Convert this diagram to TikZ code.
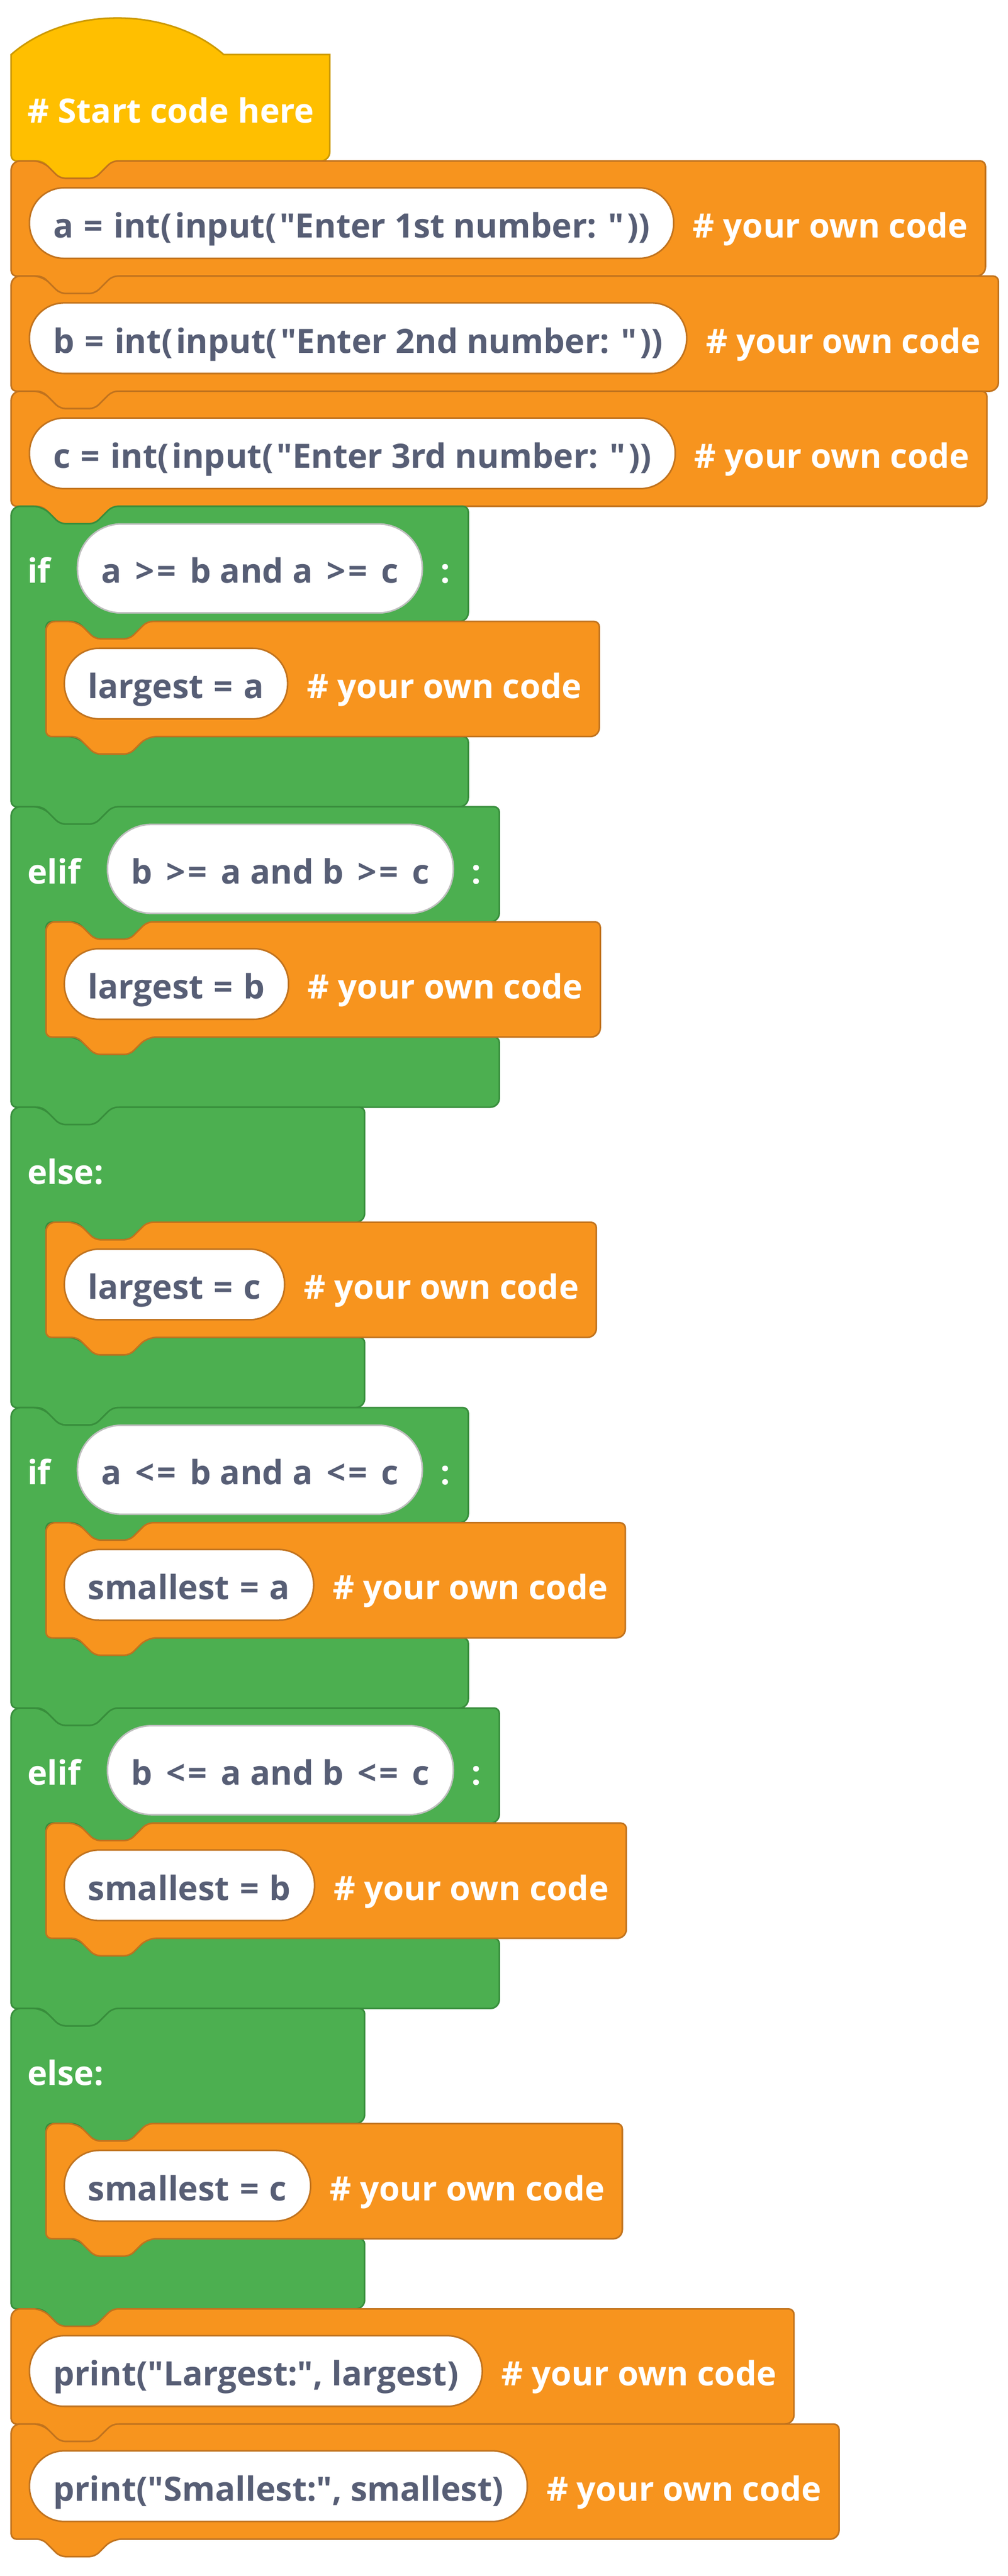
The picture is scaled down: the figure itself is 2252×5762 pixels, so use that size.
\documentclass[tikz,border=0pt]{standalone}
\usepackage{fontspec}
\setmainfont{Open Sans}[Ligatures=TeXOff]
\usetikzlibrary{calc}
\definecolor{ofill}{HTML}{F7941E}
\definecolor{oline}{HTML}{C1731E}
\definecolor{gfill}{HTML}{4CAF50}
\definecolor{gline}{HTML}{388E3C}
\definecolor{yfill}{HTML}{FFBF00}
\definecolor{yline}{HTML}{CC9900}
\definecolor{txtc}{HTML}{575E75}
\definecolor{pgray}{HTML}{BEBEBE}
\pgfdeclarelayer{bg}
\pgfsetlayers{bg,main}
\newdimen\blkdim
\newcommand\bfnt{\fontsize{75pt}{90pt}\selectfont\bfseries}
\newcommand\getxof[3]{\pgfextractx{\blkdim}{\pgfpointanchor{#1}{#2}}\pgfmathsetmacro#3{\the\blkdim}}
% wider spacing of operators, as in the reference font
\newcommand\eqop{\kern4pt=\kern4pt}
\newcommand\geop{\kern12pt>\kern5pt=\kern12pt}
\newcommand\leop{\kern12pt<\kern5pt=\kern12pt}
\newcommand\pk{\kern7pt}
\tikzset{
  lbl/.style={font=\bfnt, text=white, inner sep=0pt, anchor=base west},
  pill/.style={font=\bfnt, text=txtc, fill=white, draw=oline, line width=3.5pt,
    rounded corners=78pt, minimum height=158pt, inner xsep=53pt, inner ysep=0pt,
    text height=79pt, text depth=13pt, anchor=west},
  cpill/.style={pill, draw=pgray, minimum height=199pt, rounded corners=98pt, anchor=base west},
  oblock/.style={fill=ofill, draw=oline, line width=3.5pt},
  gblock/.style={fill=gfill, draw=gline, line width=3.5pt},
  yblock/.style={fill=yfill, draw=yline, line width=3.5pt},
}
% simple stack block shape: #1 left, #2 top, #3 right, #4 style
\newcommand\sblock[4]{%
  \begin{pgfonlayer}{bg}
  \draw[#4, rounded corners=20] (#1,#2+120) -- (#1,#2) -- (#1+70,#2) [rounded corners=12]
    -- (#1+109,#2+39) -- (#1+187,#2+39) -- (#1+226,#2) -- (#3,#2) [rounded corners=20]
    -- (#3,#2+257.5) -- (#1+226,#2+257.5) [rounded corners=12]
    -- (#1+187,#2+296.5) -- (#1+109,#2+296.5) -- (#1+70,#2+257.5) -- (#1,#2+257.5) [rounded corners=20]
    -- cycle;
  \end{pgfonlayer}}
% statement block: #1 name, #2 left, #3 top, #4 text
\newcommand\stmt[4]{%
  \node[pill] (#1p) at (#2+39,#3+139) {#4};
  \node[lbl] (#1c) at ([xshift=41pt]#1p.base east) {\# your own code};
  \getxof{#1c}{east}{\blkR}%
  \pgfmathsetmacro\blkR{\blkR+39}%
  \sblock{#2}{#3}{\blkR}{oblock}}
% C-shaped green block: #1 top, #2 right
\newcommand\cshape[2]{%
  \begin{pgfonlayer}{bg}
  \draw[gblock, rounded corners=20] (25,#1+120) -- (25,#1) -- (95,#1) [rounded corners=12]
    -- (134,#1+39) -- (212,#1+39) -- (251,#1) -- (#2,#1) [rounded corners=20]
    -- (#2,#1+257.5) -- (329,#1+257.5) [rounded corners=12]
    -- (290,#1+296.5) -- (212,#1+296.5) -- (173,#1+257.5) -- (103,#1+257.5) [rounded corners=20]
    -- (103,#1+515) -- (173,#1+515) [rounded corners=12]
    -- (212,#1+554) -- (290,#1+554) -- (329,#1+515) -- (#2,#1+515) [rounded corners=20]
    -- (#2,#1+672) -- (251,#1+672) [rounded corners=12]
    -- (212,#1+711) -- (134,#1+711) -- (95,#1+672) -- (25,#1+672) [rounded corners=20]
    -- cycle;
  \end{pgfonlayer}}
% if / elif block: #1 name, #2 top, #3 keyword, #4 condition, #5 inner statement
\newcommand\cblk[5]{%
  \node[lbl] (#1l) at (61,#2+172) {#3};
  \node[cpill] (#1q) at ([xshift=58pt]#1l.base east) {#4};
  \node[lbl, anchor=base] (#1k) at ([xshift=50pt]#1q.base east) {:};
  \getxof{#1k}{center}{\blkR}%
  \pgfmathsetmacro\blkR{\blkR+51}%
  \cshape{#2}{\blkR}%
  \stmt{#1i}{103}{#2+257.5}{#5}}
% else block: #1 name, #2 top, #3 inner statement
\newcommand\eblk[3]{%
  \node[lbl] (#1l) at (61,#2+172) {else:};
  \cshape{#2}{815}%
  \stmt{#1i}{103}{#2+257.5}{#3}}
\begin{document}
\begin{tikzpicture}[x=1pt,y=-1pt]
\useasboundingbox (0,0) rectangle (2252,5762);
\begin{pgfonlayer}{bg}
\fill[white] (0,0) rectangle (2252,5762);
\draw[yblock] (25,250) -- (25,122) .. controls (149,13) and (376,13) .. (500,122) -- (737,122) [rounded corners=20]
  -- (737,360) -- (251,360) [rounded corners=12] -- (212,399) -- (134,399) -- (95,360) -- (25,360) [rounded corners=20] -- cycle;
\end{pgfonlayer}
\node[lbl] (hat) at (62,274.5) {\# Start code here};
\stmt{ba}{25}{360}{a \eqop{} int(\pk input(\pk"Enter 1st number: "\pk))}
\stmt{bb}{25}{617.5}{b \eqop{} int(\pk input(\pk"Enter 2nd number: "\pk))}
\stmt{bc}{25}{875}{c \eqop{} int(\pk input(\pk"Enter 3rd number: "\pk))}
\cblk{ca}{1132.5}{if}{a \geop{} b and a \geop{} c}{largest \eqop{} a}
\cblk{cb}{1804.5}{elif}{b \geop{} a and b \geop{} c}{largest \eqop{} b}
\eblk{cc}{2476.5}{largest \eqop{} c}
\cblk{cd}{3148.5}{if}{a \leop{} b and a \leop{} c}{smallest \eqop{} a}
\cblk{ce}{3820.5}{elif}{b \leop{} a and b \leop{} c}{smallest \eqop{} b}
\eblk{cf}{4492.5}{smallest \eqop{} c}
\stmt{pa}{25}{5164.5}{print("Largest:", largest)}
\stmt{pb}{25}{5422}{print("Smallest:", smallest)}
\end{tikzpicture}
\end{document}
